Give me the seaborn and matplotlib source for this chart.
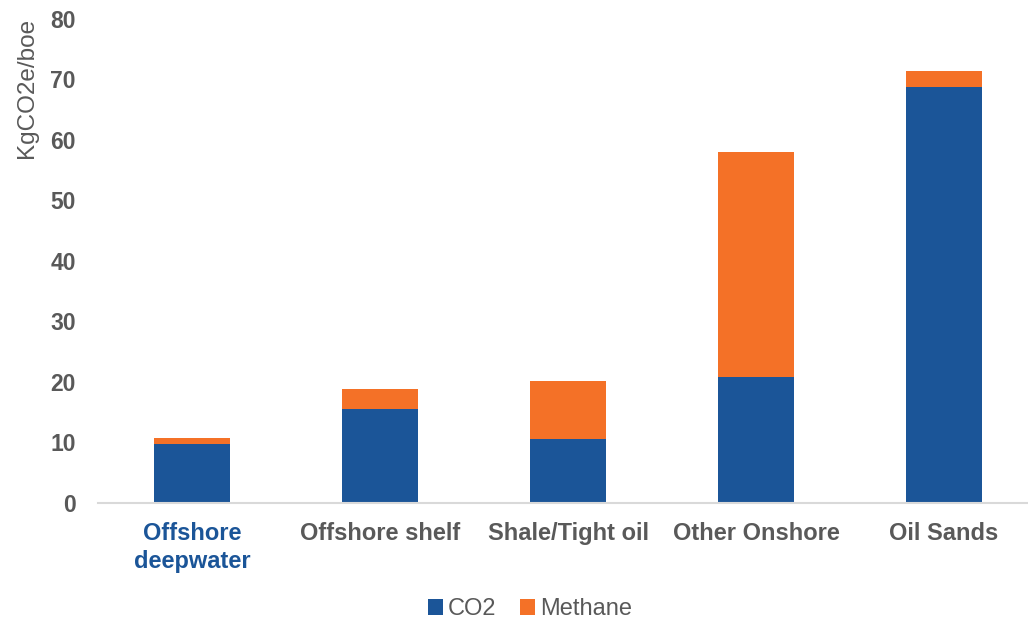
import numpy as np
import pandas as pd
import matplotlib.pyplot as plt
import seaborn as sns

categories = ['Offshore\ndeepwater', 'Offshore shelf', 'Shale/Tight oil', 'Other Onshore', 'Oil Sands']
co2 = [9.8, 15.5, 10.6, 20.8, 68.8]
methane = [0.9, 3.4, 9.5, 37.2, 2.5]
yticks = [0, 10, 20, 30, 40, 50, 60, 70, 80]

BLUE = '#1B5598'
ORANGE = '#F47127'
GREY = '#595959'

sns.set_theme(style='white')
plt.rcParams['font.family'] = ['Liberation Sans', 'DejaVu Sans']

df = pd.DataFrame({'Category': categories, 'CO2': co2, 'Methane': methane})
df['Total'] = df['CO2'] + df['Methane']

fig = plt.figure(figsize=(10.28, 6.22), dpi=100)
ax = fig.add_axes([98 / 1028, 119 / 622, 940 / 1028, 484.3 / 622])

# stacked bars: total (methane colour) underneath, CO2 over it
sns.barplot(data=df, x='Category', y='Total', color=ORANGE, width=0.4,
            saturation=1, linewidth=0, ax=ax, label='Methane')
sns.barplot(data=df, x='Category', y='CO2', color=BLUE, width=0.4,
            saturation=1, linewidth=0, ax=ax, label='CO2')

ax.set_ylim(0, 80)
ax.set_xlim(-0.5, 4.5)
ax.set_yticks(yticks)
ax.set_yticklabels([str(t) for t in yticks], fontsize=16.5, fontweight='bold', color=GREY)
ax.tick_params(axis='y', length=0, pad=16)
ax.tick_params(axis='x', length=0, pad=14)
for i, lab in enumerate(ax.get_xticklabels()):
    lab.set_fontsize(17)
    lab.set_fontweight('bold')
    lab.set_color(BLUE if i == 0 else GREY)
    lab.set_linespacing(1.25)
ax.set_xlabel('')
ax.set_ylabel('')
for side in ['left', 'right', 'top']:
    ax.spines[side].set_visible(False)
ax.spines['bottom'].set_color('#D9D9D9')
ax.spines['bottom'].set_linewidth(1.5)
ax.grid(False)
if ax.get_legend() is not None:
    ax.get_legend().remove()

fig.text(27 / 1028, 1 - 18 / 622, 'KgCO2e/boe', rotation=90, ha='center', va='top',
         fontsize=17.5, color=GREY)

handles, labels = ax.get_legend_handles_labels()
order = [labels.index('CO2'), labels.index('Methane')]
fig.legend([handles[i] for i in order], [labels[i] for i in order],
           loc='center', bbox_to_anchor=(530 / 1028, 1 - 609 / 622), ncol=2,
           frameon=False, fontsize=17, labelcolor=GREY, handlelength=0.65,
           handleheight=0.65, handletextpad=0.2, columnspacing=1.0)

fig.savefig('out.png', dpi=100)
